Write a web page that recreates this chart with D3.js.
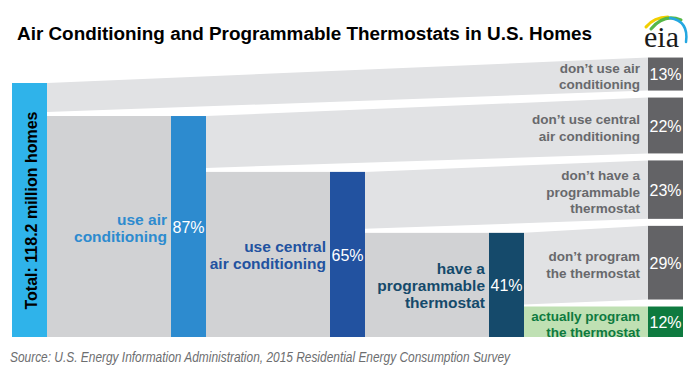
<!DOCTYPE html>
<html>
<head>
<meta charset="utf-8">
<script src="https://cdn.jsdelivr.net/npm/d3@7"></script>
<style>
  html, body { margin: 0; padding: 0; background: #fff; }
  svg { display: block; font-family: "Liberation Sans", Arial, Helvetica, sans-serif; }
</style>
</head>
<body>
<svg id="chart" width="699" height="378"></svg>
<script>
// ---------- data ----------
const titleText = "Air Conditioning and Programmable Thermostats in U.S. Homes";
const sourceText = "Source: U.S. Energy Information Administration, 2015 Residential Energy Consumption Survey";
const totalLabel = "Total: 118.2 million homes";

const stageNames = ["Total", "use air conditioning", "use central air conditioning", "have a programmable thermostat"];
const stageValues = [100, 87, 65, 41];
const stagePctLabels = ["", "87%", "65%", "41%"];
const stageLabelLines = [[], ["use air", "conditioning"], ["use central", "air conditioning"], ["have a", "programmable", "thermostat"]];

const outcomeNames = ["don’t use air conditioning", "don’t use central air conditioning", "don’t have a programmable thermostat", "don’t program the thermostat", "actually program the thermostat"];
const outcomeValues = [13, 22, 23, 29, 12];
const outcomePctLabels = ["13%", "22%", "23%", "29%", "12%"];
const outcomeLabelLines = [["don’t use air", "conditioning"], ["don’t use central", "air conditioning"], ["don’t have a", "programmable", "thermostat"], ["don’t program", "the thermostat"], ["actually program", "the thermostat"]];

// ---------- styles ----------
const stageColors = ["#2fb3ea", "#2d8bcf", "#2252a0", "#154a6b"];
const outcomeBoxColors = ["#636366", "#636366", "#636366", "#636366", "#0e7a3f"];
const outcomeBandColors = ["#e1e2e4", "#e1e2e4", "#e1e2e4", "#e1e2e4", "#bfe0b3"];
const outcomeTextColors = ["#68696c", "#68696c", "#68696c", "#68696c", "#0e7a3f"];
const flowColor = "#d1d2d4";

// ---------- layout ----------
const svg = d3.select("#chart");
const barW = 35;
const xCol = d3.scaleLinear().domain([0, 4]).range([12, 648]);
const y = d3.scaleLinear().domain([0, 100]).range([337, 83]);
const h = d3.scaleLinear().domain([0, 100]).range([0, 254]);
const bandGap = 4;
const boxGap = 7;

// right column stacking (bottom up)
const boxes = [];
{
  let bottom = y(0);
  for (let j = outcomeValues.length - 1; j >= 0; j--) {
    const top = bottom - h(outcomeValues[j]);
    boxes[j] = { top, bottom };
    bottom = top - boxGap;
  }
}

// flows between stages (dark gray)
for (let s = 0; s < stageValues.length - 1; s++) {
  svg.append("rect")
    .attr("x", xCol(s) + barW)
    .attr("y", y(stageValues[s + 1]))
    .attr("width", xCol(s + 1) - xCol(s) - barW)
    .attr("height", y(0) - y(stageValues[s + 1]))
    .attr("fill", flowColor);
}

// outcome bands
const line = d3.line().x(d => d[0]).y(d => d[1]);
outcomeValues.forEach((v, j) => {
  const s = Math.min(j, stageValues.length - 1);
  let topV, lowV, gap;
  if (j < stageValues.length - 1) { topV = stageValues[j]; lowV = stageValues[j + 1]; gap = bandGap; }
  else if (j === stageValues.length - 1) { topV = stageValues[s]; lowV = outcomeValues[outcomeValues.length - 1]; gap = bandGap / 2; }
  else { topV = outcomeValues[j]; lowV = 0; gap = 0; }
  const x0 = xCol(s) + barW, x1 = xCol(4);
  const pts = [[x0, y(topV)], [x1, boxes[j].top], [x1, boxes[j].bottom], [x0, y(lowV) - gap]];
  svg.append("path").attr("d", line(pts) + "Z").attr("fill", outcomeBandColors[j]);
});

// stage bars
stageValues.forEach((v, s) => {
  svg.append("rect")
    .attr("x", xCol(s)).attr("y", y(v))
    .attr("width", barW).attr("height", y(0) - y(v))
    .attr("fill", stageColors[s]);
});

// outcome boxes
outcomeValues.forEach((v, j) => {
  svg.append("rect")
    .attr("x", xCol(4)).attr("y", boxes[j].top)
    .attr("width", barW).attr("height", boxes[j].bottom - boxes[j].top)
    .attr("fill", outcomeBoxColors[j]);
});

// percentage labels
function pct(x, yb, t) {
  svg.append("text").attr("x", x).attr("y", yb)
    .attr("text-anchor", "middle").attr("fill", "#fff")
    .style("font-size", "16px").text(t);
}
function multiLabel(xr, yc, lines, lh, color, fs) {
  const n = lines.length;
  lines.forEach((t, i) => {
    svg.append("text").attr("x", xr).attr("y", yc + (i - (n - 1) / 2) * lh)
      .attr("text-anchor", "end").attr("fill", color)
      .style("font-size", fs + "px").style("font-weight", "bold")
      .text(t);
  });
}
stageValues.forEach((v, s) => {
  if (s === 0) return;
  const yb = (y(v) + y(0)) / 2 + 6.5;
  pct(xCol(s) + barW / 2, yb, stagePctLabels[s]);
  multiLabel(xCol(s) - 4, yb, stageLabelLines[s], 17, stageColors[s], 15.5);
});
outcomeValues.forEach((v, j) => {
  const bh = boxes[j].bottom - boxes[j].top;
  const yb = (boxes[j].top + boxes[j].bottom) / 2 + 6;
  pct(xCol(4) + barW / 2, yb, outcomePctLabels[j]);
  multiLabel(xCol(4) - 8, yb + 1, outcomeLabelLines[j], Math.max(15.5, Math.min(16.5, bh / 2.15)), outcomeTextColors[j], 13.5);
});

// total label (rotated)
svg.append("text")
  .attr("transform", `translate(${xCol(0) + barW / 2 + 7},${(y(100) + y(0)) / 2 + 0.5}) rotate(-90)`)
  .attr("text-anchor", "middle").attr("fill", "#000")
  .style("font-size", "16px").style("font-weight", "bold")
  .text(totalLabel);

// title
svg.append("text").attr("x", 17).attr("y", 40)
  .attr("fill", "#000").style("font-size", "18px").style("font-weight", "bold")
  .attr("textLength", 575).attr("lengthAdjust", "spacingAndGlyphs")
  .text(titleText);

// source
svg.append("text").attr("x", 10).attr("y", 362)
  .attr("fill", "#6d6e70").style("font-size", "15px").style("font-style", "italic")
  .attr("textLength", 500).attr("lengthAdjust", "spacingAndGlyphs")
  .text(sourceText);

// eia logo
const logo = svg.append("g");
logo.append("path").attr("d", "M646,27 Q654,17 668,17").attr("fill", "none").attr("stroke", "#f2cf00").attr("stroke-width", 3).attr("stroke-linecap", "round");
logo.append("path").attr("d", "M651,29 Q664,13 681,20").attr("fill", "none").attr("stroke", "#55b847").attr("stroke-width", 3).attr("stroke-linecap", "round");
logo.append("path").attr("d", "M670,18 Q689,21 686,42").attr("fill", "none").attr("stroke", "#24a7e1").attr("stroke-width", 2.5).attr("stroke-linecap", "round");
logo.append("text").attr("x", 644).attr("y", 47)
  .attr("fill", "#1a1a1a").style("font-family", "'Liberation Serif', 'Times New Roman', serif")
  .style("font-size", "30px").text("eia");
</script>
</body>
</html>
